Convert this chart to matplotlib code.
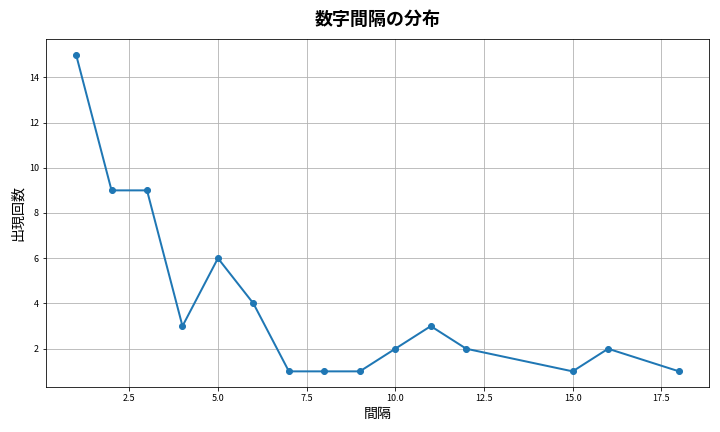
import matplotlib
matplotlib.use("Agg")
import matplotlib.pyplot as plt

plt.rcParams['font.family'] = ['Noto Sans CJK JP', 'DejaVu Sans']

gaps = [1, 2, 3, 4, 5, 6, 7, 8, 9, 10, 11, 12, 15, 16, 18]
counts = [15, 9, 9, 3, 6, 4, 1, 1, 1, 2, 3, 2, 1, 2, 1]

fig, ax = plt.subplots(figsize=(10, 6), dpi=72)
ax.plot(gaps, counts, marker='o', linewidth=2, color='#1f77b4')
ax.set_title('数字間隔の分布', fontsize=18, fontweight='bold', pad=14)
ax.set_xlabel('間隔', fontsize=14)
ax.set_ylabel('出現回数', fontsize=14)
ax.tick_params(labelsize=9)
ax.grid(True, color='#b0b0b0', linewidth=0.8)
fig.tight_layout()
fig.savefig('out.png')
